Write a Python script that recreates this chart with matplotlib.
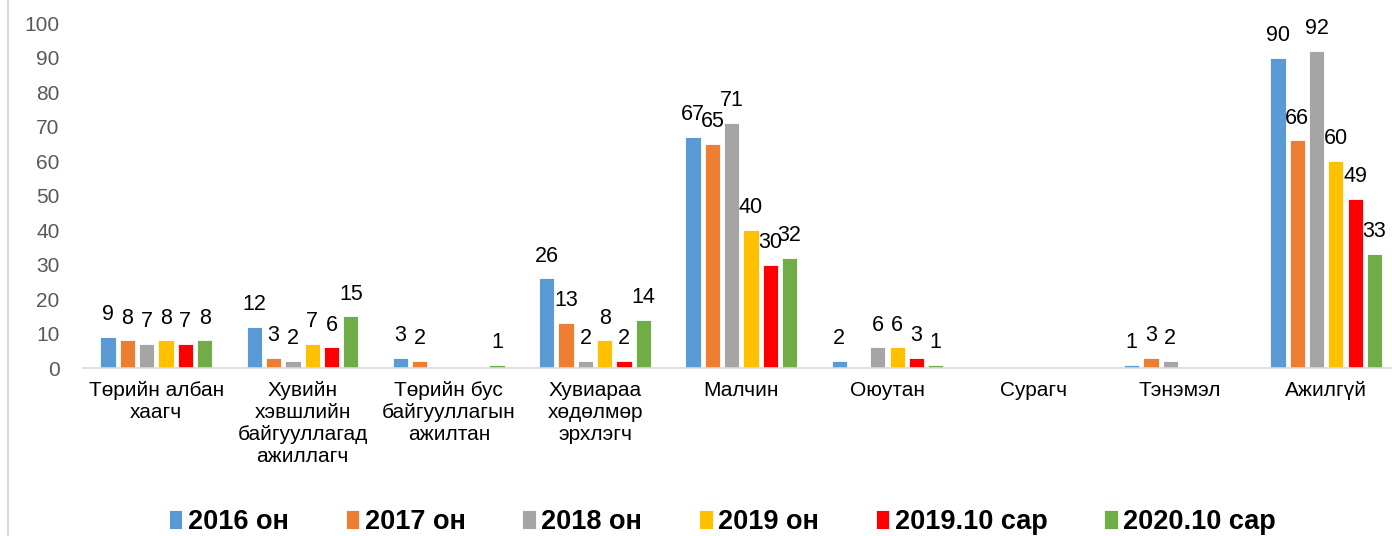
import numpy as np
import matplotlib.pyplot as plt
from matplotlib.lines import Line2D

plt.rcParams["font.family"] = ["Liberation Sans", "DejaVu Sans"]

categories = [
    "Төрийн албан\nхаагч",
    "Хувийн\nхэвшлийн\nбайгууллагад\nажиллагч",
    "Төрийн бус\nбайгууллагын\nажилтан",
    "Хувиараа\nхөдөлмөр\nэрхлэгч",
    "Малчин",
    "Оюутан",
    "Сурагч",
    "Тэнэмэл",
    "Ажилгүй",
]
series_names = ["2016 он", "2017 он", "2018 он", "2019 он", "2019.10 сар", "2020.10 сар"]
v2016 = [9, 12, 3, 26, 67, 2, 0, 1, 90]
v2017 = [8, 3, 2, 13, 65, 0, 0, 3, 66]
v2018 = [7, 2, 0, 2, 71, 6, 0, 2, 92]
v2019 = [8, 7, 0, 8, 40, 6, 0, 0, 60]
v2019_10 = [7, 6, 0, 2, 30, 3, 0, 0, 49]
v2020_10 = [8, 15, 1, 14, 32, 1, 0, 0, 33]
series = [v2016, v2017, v2018, v2019, v2019_10, v2020_10]
colors = ["#5b9bd5", "#ed7d31", "#a5a5a5", "#ffc000", "#ff0000", "#70ad47"]

fig = plt.figure(figsize=(13.92, 5.36), dpi=100)
ax = fig.add_axes([0.0598, 0.3134, 0.9402, 0.6436])

x = np.arange(len(categories))
step = 0.132
width = 0.104
for i, (vals, col, name) in enumerate(zip(series, colors, series_names)):
    pos = x + (i - 2.5) * step
    bars = ax.bar(pos, vals, width, color=col, edgecolor="white", linewidth=0.6, label=name)
    for b, v in zip(bars, vals):
        if v:
            ax.text(b.get_x() + b.get_width() / 2, v + 3.4, str(v),
                    ha="center", va="bottom", fontsize=15.5, color="black")

ax.set_xlim(-0.5, 8.45)
ax.set_ylim(0, 100)
ax.set_yticks(range(0, 101, 10))
ax.tick_params(axis="y", length=0, labelsize=15, labelcolor="#595959", pad=17)
ax.tick_params(axis="x", length=0, labelsize=15, pad=9)
ax.set_xticks(x)
ax.set_xticklabels(categories, va="top", linespacing=1.2)
for s in ["top", "right", "left"]:
    ax.spines[s].set_visible(False)
ax.spines["bottom"].set_color("#d9d9d9")
ax.spines["bottom"].set_linewidth(1.2)

fig.add_artist(Line2D([0.006, 0.006], [0, 1], color="#d9d9d9", linewidth=1.5))

fig.legend(loc="center", bbox_to_anchor=(0.519, 0.027), ncol=6, frameon=False,
           prop={"weight": "bold", "size": 19.5}, handlelength=0.5, handleheight=0.7,
           handletextpad=0.2, columnspacing=2.1)

fig.savefig("out.png", dpi=100, facecolor="white")
